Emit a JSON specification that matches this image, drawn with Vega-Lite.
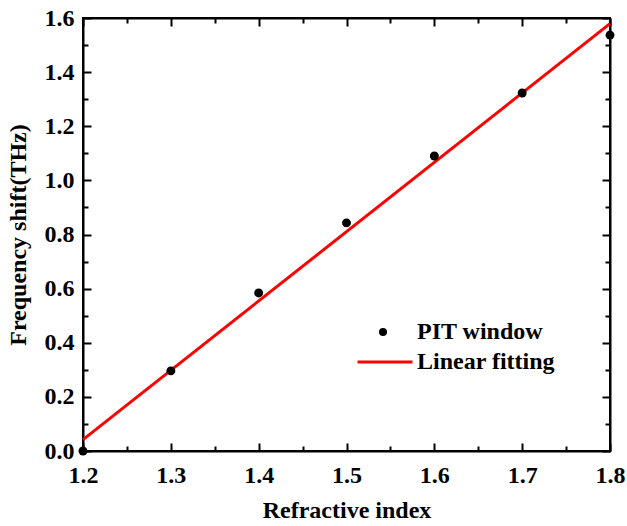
{
  "$schema": "https://vega.github.io/schema/vega-lite/v6.json",
  "width": 527,
  "height": 433,
  "autosize": {"type": "none"},
  "padding": {"left": 83, "top": 18, "right": 17, "bottom": 75},
  "background": "white",
  "config": {
    "view": {"stroke": "black", "strokeWidth": 2},
    "font": "Liberation Serif",
    "axis": {
      "grid": false,
      "domainColor": "black",
      "domainWidth": 2,
      "tickColor": "black",
      "tickWidth": 2,
      "labelFont": "Liberation Serif",
      "labelFontWeight": "bold",
      "labelFontSize": 24,
      "labelColor": "black",
      "titleFont": "Liberation Serif",
      "titleFontWeight": "bold",
      "titleFontSize": 24,
      "titleColor": "black"
    },
    "legend": {
      "title": null,
      "orient": "none",
      "padding": 0,
      "labelFont": "Liberation Serif",
      "labelFontWeight": "bold",
      "labelFontSize": 24,
      "labelColor": "black"
    }
  },
  "datasets": {
    "pts": [
      {"ri": 1.2, "shift": 0.0, "series": "PIT window"},
      {"ri": 1.3, "shift": 0.296, "series": "PIT window"},
      {"ri": 1.4, "shift": 0.584, "series": "PIT window"},
      {"ri": 1.5, "shift": 0.843, "series": "PIT window"},
      {"ri": 1.6, "shift": 1.09, "series": "PIT window"},
      {"ri": 1.7, "shift": 1.323, "series": "PIT window"},
      {"ri": 1.8, "shift": 1.537, "series": "PIT window"}
    ],
    "fit": [
      {"ri": 1.2, "shift": 0.042, "series": "Linear fitting"},
      {"ri": 1.8, "shift": 1.579, "series": "Linear fitting"}
    ]
  },
  "layer": [
    {
      "data": {"name": "fit"},
      "mark": {"type": "line", "strokeWidth": 3},
      "encoding": {
        "x": {
          "field": "ri", "type": "quantitative",
          "scale": {"domain": [1.2, 1.8], "nice": false, "zero": false},
          "axis": {
            "orient": "bottom",
            "title": "Refractive index",
            "titlePadding": 11,
            "values": [1.2, 1.25, 1.3, 1.35, 1.4, 1.45, 1.5, 1.55, 1.6, 1.65, 1.7, 1.75, 1.8],
            "labelExpr": "abs(datum.value*10 - round(datum.value*10)) < 0.001 ? format(datum.value, '.1f') : ''",
            "tickSize": {"condition": {"test": "abs(datum.value*10 - round(datum.value*10)) < 0.001", "value": -8}, "value": -5},
            "labelPadding": 20,
            "labelFlush": false
          }
        },
        "y": {
          "field": "shift", "type": "quantitative",
          "scale": {"domain": [0, 1.6], "nice": false},
          "axis": {
            "orient": "left",
            "title": "Frequency shift(THz)",
            "titlePadding": 14,
            "values": [0, 0.1, 0.2, 0.3, 0.4, 0.5, 0.6, 0.7, 0.8, 0.9, 1.0, 1.1, 1.2, 1.3, 1.4, 1.5, 1.6],
            "labelExpr": "abs(datum.value*5 - round(datum.value*5)) < 0.001 ? format(datum.value, '.1f') : ''",
            "tickSize": {"condition": {"test": "abs(datum.value*5 - round(datum.value*5)) < 0.001", "value": -8}, "value": -5},
            "labelPadding": 17,
            "labelFlush": false
          }
        },
        "stroke": {
          "field": "series", "type": "nominal",
          "scale": {"domain": ["Linear fitting"], "range": ["#ff0000"]},
          "legend": {
            "legendX": 273,
            "legendY": 315,
            "symbolType": "stroke",
            "symbolSize": 3025,
            "symbolStrokeWidth": 3,
            "labelOffset": 3
          }
        }
      }
    },
    {
      "data": {"name": "pts"},
      "mark": {"type": "point", "filled": true, "opacity": 1, "size": 80},
      "encoding": {
        "x": {
          "field": "ri", "type": "quantitative",
          "axis": {
            "orient": "top", "title": null, "labels": false,
            "values": [1.2, 1.25, 1.3, 1.35, 1.4, 1.45, 1.5, 1.55, 1.6, 1.65, 1.7, 1.75, 1.8],
            "tickSize": {"condition": {"test": "abs(datum.value*10 - round(datum.value*10)) < 0.001", "value": -8}, "value": -5}
          }
        },
        "y": {
          "field": "shift", "type": "quantitative",
          "axis": {
            "orient": "right", "title": null, "labels": false,
            "values": [0, 0.1, 0.2, 0.3, 0.4, 0.5, 0.6, 0.7, 0.8, 0.9, 1.0, 1.1, 1.2, 1.3, 1.4, 1.5, 1.6],
            "tickSize": {"condition": {"test": "abs(datum.value*5 - round(datum.value*5)) < 0.001", "value": -8}, "value": -5}
          }
        },
        "fill": {
          "field": "series", "type": "nominal",
          "scale": {"domain": ["PIT window"], "range": ["#000000"]},
          "legend": {
            "legendX": 288,
            "legendY": 302,
            "symbolType": "circle",
            "symbolSize": 64,
            "symbolOpacity": 1,
            "labelOffset": 22
          }
        }
      }
    }
  ],
  "resolve": {"axis": {"x": "independent", "y": "independent"}}
}
